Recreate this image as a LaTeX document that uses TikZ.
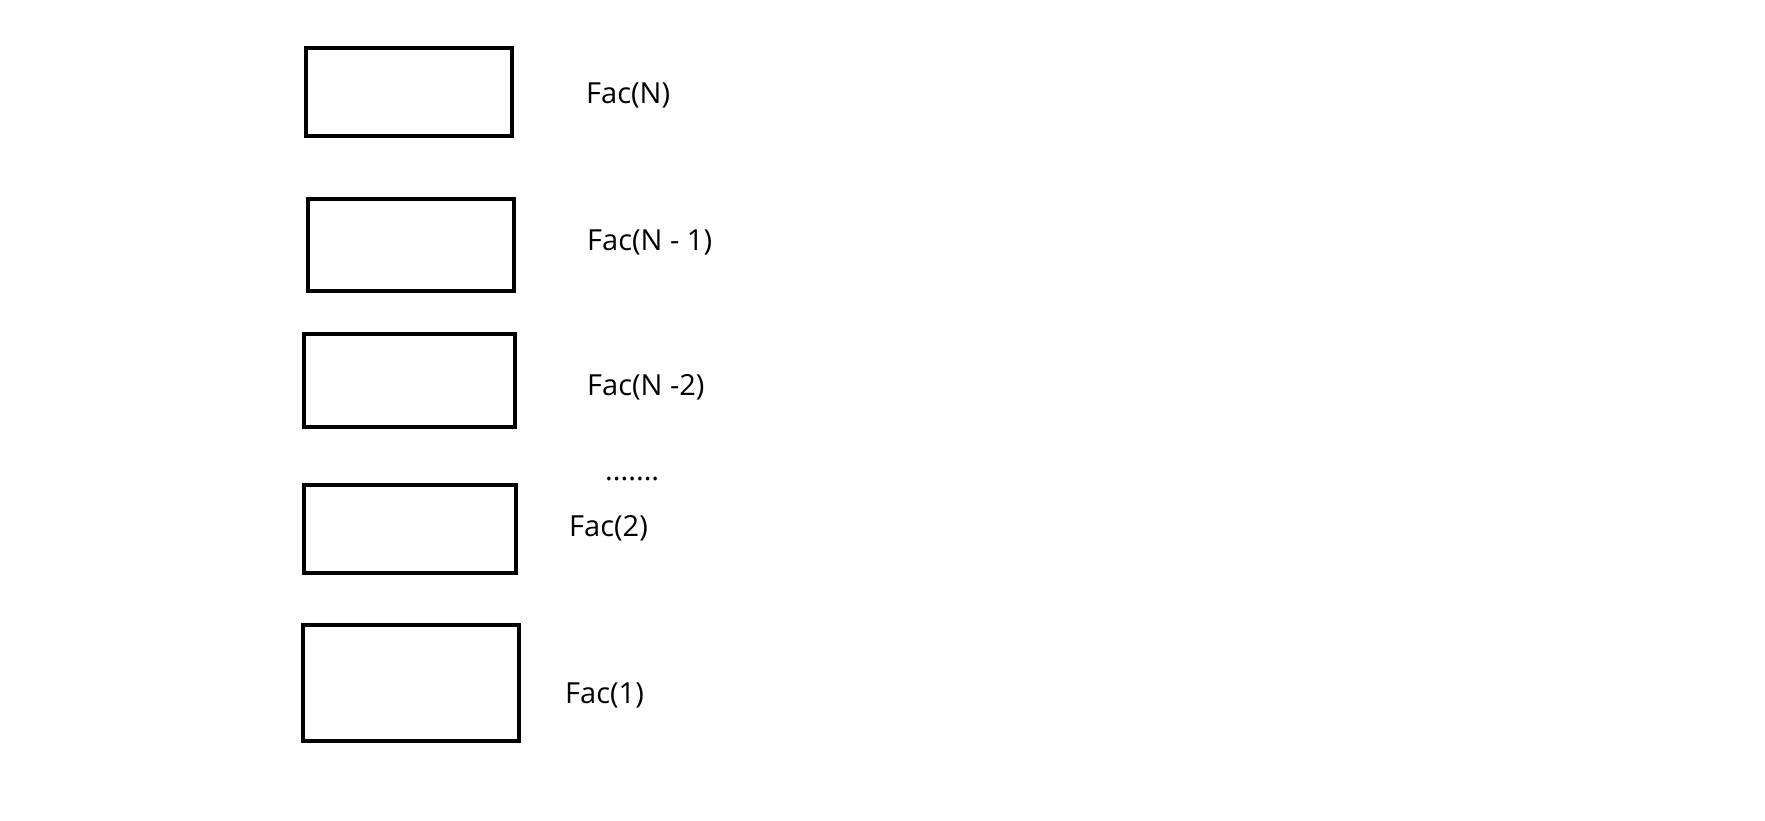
\documentclass[tikz,border=0pt]{standalone}
\usepackage{fontspec}
\setmainfont{Open Sans}
\usepackage{tikz}
\usetikzlibrary{positioning}

\begin{document}
\begin{tikzpicture}[x=1pt, y=-1pt,
		facbox/.style={rectangle, draw, line width=4.5pt, inner sep=0pt},
		faclabel/.style={anchor=base west, inner sep=0pt, font=\fontsize{29}{31}\selectfont}]
			\useasboundingbox (0,0) rectangle (1765,821);
			% Boxes
			\node[facbox, minimum width=206pt, minimum height=88pt] (boxN) at (409,92) {};
			\node[facbox, minimum width=206pt, minimum height=92pt] (boxNm1) at (411,245) {};
			\node[facbox, minimum width=211pt, minimum height=93pt] (boxNm2) at (409.5,380.5) {};
			\node[facbox, minimum width=212pt, minimum height=88pt] (box2) at (410,529) {};
			\node[facbox, minimum width=216pt, minimum height=116pt] (box1) at (411,683) {};
			% Labels
			\node[faclabel] (labN) at (586,104) {Fac(N)};
			\node[faclabel] (labNm1) at (587,251) {Fac(N - 1)};
			\node[faclabel] (labNm2) at (587,395) {Fac(N -2)};
			\node[faclabel] (dots) at (605,480) {.......};
			\node[faclabel] (lab2) at (569,536) {Fac(2)};
			\node[faclabel] (lab1) at (565,703) {Fac(1)};
		\end{tikzpicture}
\end{document}
